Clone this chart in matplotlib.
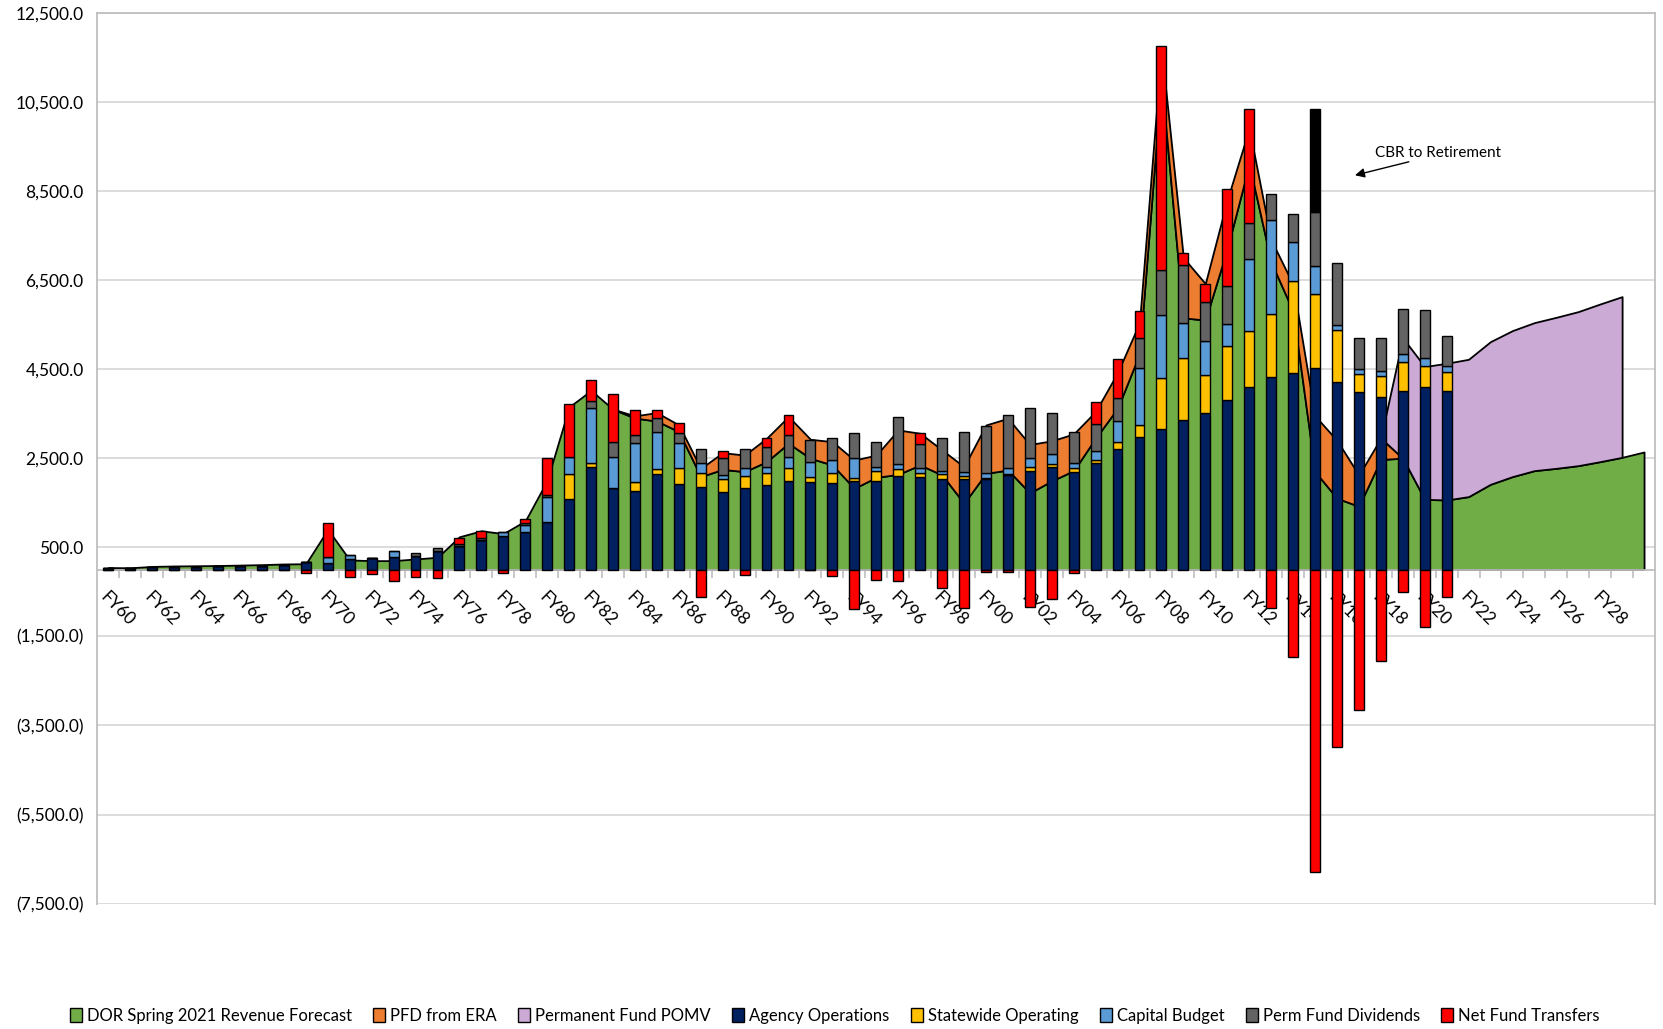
import numpy as np
import matplotlib.pyplot as plt
from matplotlib.patches import Patch
from matplotlib.ticker import FuncFormatter

plt.rcParams['font.family'] = ['Lato', 'DejaVu Sans']

# fiscal years FY60 .. FY30 (areas), bars only FY60 .. FY21
years = ["FY%02d" % (y % 100) for y in range(1960, 2031)]
bar_years = years[:62]

# DOR Spring 2021 revenue forecast ($ millions), FY60..FY30
revenue = [45, 40, 70, 80, 85, 90, 100, 110, 125, 130,
           900, 215, 200, 200, 238, 275, 736, 870, 807, 1091,
           2000, 3650, 4020, 3600, 3400, 3333, 3096, 2086, 2248, 2198,
           2421, 2834, 2497, 2347, 1824, 2069, 2137, 2347, 2123, 1487,
           2159, 2234, 1720, 1990, 2220, 2950, 3620, 4840, 11000, 5650,
           5600, 7200, 9100, 6900, 5800, 2200, 1600, 1420, 2470, 2500,
           1576, 1562, 1637, 1914, 2086, 2220, 2272, 2332, 2422, 2519,
           2639]

# PFD from ERA, FY60..FY30 (None = no area)
pfd_era = [None] * 23 + [0,
           50, 190, 150, 185, 375, 372,
           525, 600, 427, 524, 634, 500, 996, 712, 561, 821,
           1086, 1161, 1087, 900, 824, 600, 800, 700, 700, 1350,
           818, 1100, 800, 500, 600, 1250, 1300, 700, 480, 0] + [None] * 11

# Permanent Fund POMV, FY60..FY30
pomv = [None] * 58 + [0, 2700,
        2980, 3068, 3082, 3202, 3277, 3322, 3390, 3457, 3539, 3607, None]

# bar series, FY60..FY21
agency_ops = [40, 35, 55, 60, 65, 70, 80, 90, 100, 163,
              141, 236, 266, 290, 306, 424, 532, 665, 754, 843,
              1065, 1588, 2300, 1835, 1760, 2150, 1920, 1860, 1747, 1822,
              1890, 1995, 1957, 1950, 1987, 1995, 2099, 2084, 2041, 2032,
              2040, 2120, 2219, 2294, 2190, 2397, 2706, 2981, 3153, 3351,
              3514, 3797, 4098, 4330, 4416, 4527, 4210, 3986, 3866, 4012,
              4098, 4012]
statewide_op = [0] * 20 + [
              0, 547, 97, 0, 203, 97, 352, 314, 277, 285,
              284, 277, 112, 224, 74, 224, 150, 90, 96, 75,
              22, 17, 74, 74, 78, 69, 146, 258, 1143, 1391,
              859, 1220, 1246, 1400, 2070, 1659, 1159, 413, 472, 644,
              472, 430]
capital = [0] * 10 + [
              132, 92, 0, 134, 0, 0, 0, 0, 98, 164,
              570, 397, 1221, 697, 883, 839, 561, 209, 97, 164,
              119, 261, 352, 284, 436, 74, 111, 97, 82, 90,
              100, 135, 204, 225, 129, 197, 473, 1288, 1417, 799,
              756, 498, 1632, 2105, 877, 618, 129, 103, 121, 172,
              189, 128]
dividends = [0] * 10 + [
              0, 0, 0, 0, 59, 67, 40, 40, 0, 40,
              30, 0, 165, 329, 165, 322, 226, 317, 391, 429,
              466, 488, 488, 488, 562, 563, 1073, 548, 742, 884,
              1060, 1198, 1123, 929, 696, 593, 515, 662, 1000, 1300,
              876, 860, 800, 584, 618, 1220, 1392, 696, 739, 1031,
              1057, 670]
net_transfers = [0] * 9 + [-80,
              778, -159, -106, -248, -159, -196, 147, 165, -80, 80,
              846, 1176, 472, 1087, 562, 165, 225, -622, 157, -127,
              187, 449, 0, -135, -884, -240, -262, 240, -412, -861,
              -52, -50, -850, -670, -70, 515, 885, 610, 5030, 270,
              395, 2165, 2568, -870, -1969, -6795, -3989, -3152, -2051, -511,
              -1296, -608]
cbr_retirement = [0] * 55 + [2320] + [0] * 6

c_green = '#70AD47'
c_orange = '#ED7D31'
c_purple = '#CCAAD6'
c_navy = '#002060'
c_yellow = '#FFC000'
c_lblue = '#5B9BD5'
c_gray = '#636363'
c_red = '#FF0000'

fig = plt.figure(figsize=(16.63, 10.29), dpi=100)
ax = fig.add_axes([0.0586, 0.1218, 0.9366, 0.8659])

x = np.arange(len(years))
rev = np.array(revenue, dtype=float)
era = np.array([np.nan if v is None else v for v in pfd_era], dtype=float)
pom = np.array([np.nan if v is None else v for v in pomv], dtype=float)
era0 = np.nan_to_num(era)

ax.fill_between(x, 0, rev, facecolor=c_green, edgecolor='black', lw=1.3, zorder=2)
ax.fill_between(x, rev, rev + era, facecolor=c_orange, edgecolor='black', lw=1.3, zorder=2)
ax.fill_between(x, rev + era0, rev + era0 + pom, facecolor=c_purple, edgecolor='black',
                lw=1.3, zorder=2)

# stacked bars
xb = np.arange(len(bar_years))
w = 0.45
bottom = np.zeros(len(xb))
for vals, col in [(agency_ops, c_navy), (statewide_op, c_yellow),
                  (capital, c_lblue), (dividends, c_gray)]:
    v = np.array(vals, dtype=float)
    ax.bar(xb, v, w, bottom=bottom, color=col, edgecolor='black', lw=1, zorder=3)
    bottom = bottom + v

nt = np.array(net_transfers, dtype=float)
nt_bottom = np.where(nt > 0, bottom, 0)
ax.bar(xb, nt, w, bottom=nt_bottom, color=c_red, edgecolor='black', lw=1, zorder=3)
cbr = np.array(cbr_retirement, dtype=float)
mask = cbr > 0
ax.bar(xb[mask], cbr[mask], w, bottom=bottom[mask], color='black', edgecolor='black',
       lw=1, zorder=3)

# annotation
ax.annotate('', xy=(56.7, 8835), xytext=(59.4, 9167),
            arrowprops=dict(arrowstyle='-|>', color='black', lw=1, mutation_scale=14),
            zorder=5)
ax.text(57.75, 9358, 'CBR to Retirement', fontsize=11, ha='left', va='center', zorder=5)

# axes
ax.set_xlim(-0.5, len(years) - 0.5)
ax.set_ylim(-7500, 12500)
ax.set_yticks(np.arange(-7500, 12501, 2000))
ax.yaxis.set_major_formatter(FuncFormatter(
    lambda v, p: f"{v:,.1f}" if v >= 0 else f"({-v:,.1f})"))
ax.tick_params(axis='y', length=0, labelsize=12.5, pad=10)
ax.grid(axis='y', color='#D9D9D9', lw=1.3)
ax.set_axisbelow(True)

ax.spines['bottom'].set_position(('data', 0))
ax.spines['bottom'].set_zorder(2.5)
for s in ax.spines.values():
    s.set_color('#BFBFBF')
    s.set_linewidth(1.3)

lab_idx = np.arange(0, 70, 2)
ax.set_xticks(lab_idx)
ax.set_xticklabels([years[i] for i in lab_idx], rotation=-45, ha='left', va='top',
                   rotation_mode='anchor', fontsize=12.5)
ax.tick_params(axis='x', which='major', length=0, pad=14)
ax.set_xticks(np.arange(0.5, len(years) - 1, 1), minor=True)
ax.tick_params(axis='x', which='minor', length=6, color='#BFBFBF', width=1.2)

handles = [Patch(facecolor=c, edgecolor='black', lw=1) for c in
           [c_green, c_orange, c_purple, c_navy, c_yellow, c_lblue, c_gray, c_red]]
labels = ['DOR Spring 2021 Revenue Forecast', 'PFD from ERA', 'Permanent Fund POMV',
          'Agency Operations', 'Statewide Operating', 'Capital Budget',
          'Perm Fund Dividends', 'Net Fund Transfers']
fig.legend(handles, labels, loc='center', bbox_to_anchor=(0.502, 0.0125), ncol=8,
           frameon=False, fontsize=12, handlelength=0.7, handleheight=0.9,
           handletextpad=0.3, columnspacing=1.3)

fig.savefig('out.png', dpi=100)
